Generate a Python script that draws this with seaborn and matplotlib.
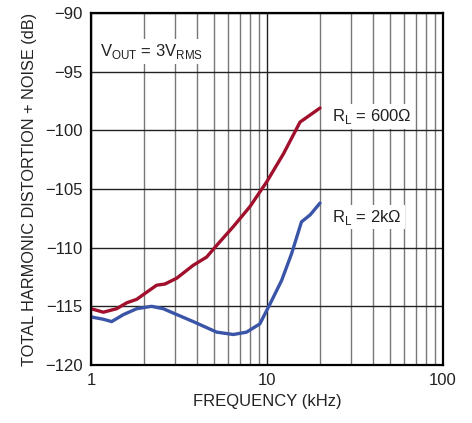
import matplotlib
matplotlib.use("Agg")
import matplotlib.pyplot as plt
import numpy as np
import pandas as pd
import seaborn as sns
from matplotlib.ticker import LogLocator, FixedLocator, NullFormatter

sns.set_style("white")
plt.rcParams['font.family'] = ['Liberation Sans Narrow', 'Liberation Sans', 'DejaVu Sans']
plt.rcParams['mathtext.fontset'] = 'custom'
plt.rcParams['mathtext.rm'] = 'Liberation Sans'

# THD+N vs frequency, RL = 600 ohm
freq_600 = [1.0, 1.175, 1.40, 1.595, 1.82, 2.07, 2.36, 2.63, 3.07, 3.81, 4.54,
            5.18, 6.44, 8.0, 9.95, 12.4, 15.4, 20.0]
thd_600 = [-115.2, -115.5, -115.2, -114.7, -114.4, -113.8, -113.2, -113.1, -112.6,
           -111.5, -110.8, -109.8, -108.2, -106.5, -104.4, -102.0, -99.3, -98.1]

# THD+N vs frequency, RL = 2k ohm
freq_2k = [1.0, 1.175, 1.31, 1.53, 1.82, 2.21, 2.57, 3.07, 3.81, 5.18, 6.44,
           7.65, 9.1, 10.4, 12.1, 13.8, 15.7, 17.6, 20.0]
thd_2k = [-115.9, -116.1, -116.3, -115.7, -115.2, -115.0, -115.2, -115.7, -116.3,
          -117.2, -117.4, -117.2, -116.5, -114.8, -112.8, -110.5, -107.8, -107.2, -106.2]

y_ticks = [-120, -115, -110, -105, -100, -95, -90]
x_ticks = [1, 10, 100]
x_tick_labels = ["1", "10", "100"]

df = pd.concat([
    pd.DataFrame({"freq": freq_600, "thd": thd_600, "load": "600"}),
    pd.DataFrame({"freq": freq_2k, "thd": thd_2k, "load": "2k"}),
])

fig = plt.figure(figsize=(4.72, 4.23), dpi=100)
ax = fig.add_axes([0.1928, 0.1371, 0.7458, 0.8322])

sns.lineplot(data=df, x="freq", y="thd", hue="load",
             palette={"600": "#a0102c", "2k": "#3a55a8"},
             linewidth=2.4, legend=False, ax=ax, estimator=None, sort=False)

ax.set_xscale("log")
ax.set_xlim(1, 100)
ax.set_ylim(-120, -90)
ax.xaxis.set_major_locator(FixedLocator(x_ticks))
ax.set_xticklabels(x_tick_labels)
ax.xaxis.set_minor_locator(LogLocator(base=10, subs=np.arange(2, 10)))
ax.xaxis.set_minor_formatter(NullFormatter())
ax.set_yticks(y_ticks)
ax.set_yticklabels([f"\u2212{abs(v)}" for v in y_ticks])

ax.grid(True, which="major", axis="both", color="#222222", linewidth=1.0)
ax.grid(True, which="minor", axis="x", color="#777777", linewidth=1.0)
ax.set_axisbelow(True)
for sp in ax.spines.values():
    sp.set_color("black")
    sp.set_linewidth(1.6)

ax.tick_params(axis="both", which="both", length=0, labelsize=12, pad=6, colors="#222222")
ax.set_xlabel("FREQUENCY (kHz)", fontsize=12, color="#222222", labelpad=4)
ax.set_ylabel("TOTAL HARMONIC DISTORTION + NOISE (dB)", fontsize=11.7, color="#222222", labelpad=6)

bbox = dict(facecolor="white", edgecolor="none", pad=2)
ax.text(1.12, -93.3, r"V$_{\mathrm{OUT}}$ = 3V$_{\mathrm{RMS}}$", fontsize=12,
        color="#222222", va="center", ha="left", bbox=bbox)
ax.text(23.5, -98.8, r"R$_{\mathrm{L}}$ = 600Ω", fontsize=12,
        color="#222222", va="center", ha="left", bbox=bbox)
ax.text(23.5, -107.4, r"R$_{\mathrm{L}}$ = 2kΩ", fontsize=12,
        color="#222222", va="center", ha="left", bbox=bbox)

fig.savefig("out.png", dpi=100)
